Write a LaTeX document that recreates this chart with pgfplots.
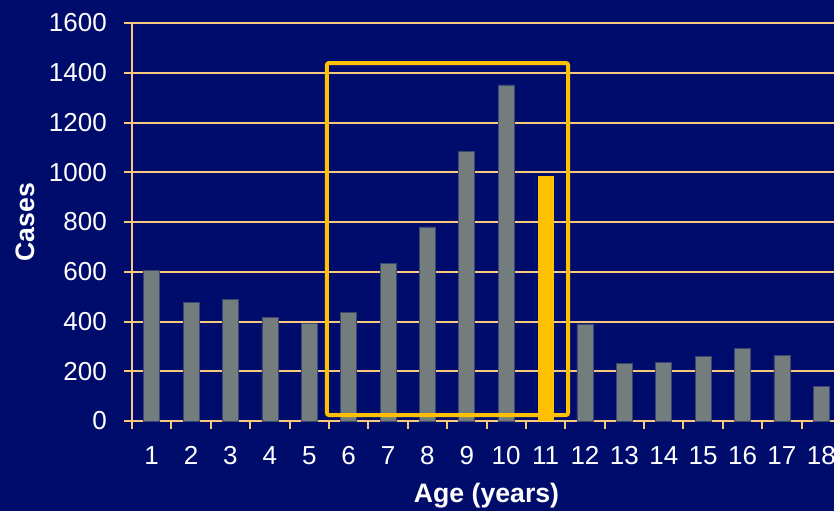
\documentclass[border=0pt]{standalone}
\usepackage{pgfplots}
\pgfplotsset{compat=1.18}
\usepackage{fontspec}
\setmainfont{Liberation Sans}
\definecolor{navy}{RGB}{0,12,108}
\definecolor{gridgold}{RGB}{248,200,125}
\definecolor{bargray}{RGB}{115,125,125}
\definecolor{baredge}{RGB}{60,70,110}
\definecolor{gold}{RGB}{255,192,0}
\begin{document}
\begin{tikzpicture}[x=0.75pt,y=0.75pt]
\path[use as bounding box] (-132,-90) rectangle (702,421);
\clip (-132,-90) rectangle (702,421);
\fill[navy] (-132,-90) rectangle (702,421);
\begin{axis}[
  at={(0,0)}, anchor=south west,
  scale only axis, width=531.75pt, height=298.5pt,
  xmin=0.5, xmax=18.5, ymin=0, ymax=1600,
  ytick={0,200,...,1600},
  xtick={1,...,18},
  minor xtick={0.5,1.5,...,18.5},
  axis lines*=left,
  axis line style={gridgold, line width=1.5pt},
  ymajorgrids, major grid style={gridgold, line width=1.5pt},
  tick align=outside,
  major tick length=6pt, minor tick length=6pt,
  major x tick style={draw=none},
  major y tick style={gridgold, line width=1.5pt},
  minor x tick style={gridgold, line width=1.5pt},
  /pgf/number format/assume math mode=true,
  /pgf/number format/1000 sep={},
  tick label style={font=\fontsize{19.5}{21}\selectfont, text=white, inner sep=0pt},
  xticklabel style={anchor=north, yshift=-12.75pt},
  yticklabel style={anchor=east, xshift=-12.75pt},
  xlabel={Age (years)},
  ylabel={Cases},
  label style={font=\fontsize{20}{22}\selectfont\bfseries, text=white},
  xlabel style={at={(axis description cs:0.5,0)}, anchor=base, yshift=-60.75pt},
  ylabel style={at={(axis description cs:0,0.5)}, anchor=center, yshift=80.25pt},
]
\addplot[ybar, bar width=12pt, bar shift=0pt, fill=bargray, draw=baredge, line width=0.5pt]
  coordinates {(1,607)(2,477)(3,489)(4,418)(5,393)(6,438)(7,632)(8,780)(9,1085)(10,1351)
               (12,390)(13,233)(14,237)(15,261)(16,293)(17,264)(18,140)};
\addplot[ybar, bar width=12pt, bar shift=0pt, fill=gold, draw=none]
  coordinates {(11,985)};
\draw[gold, line width=3pt, rounded corners=1.5pt] (axis cs:5.45,24) rectangle (axis cs:11.57,1439);
\end{axis}
\end{tikzpicture}
\end{document}
